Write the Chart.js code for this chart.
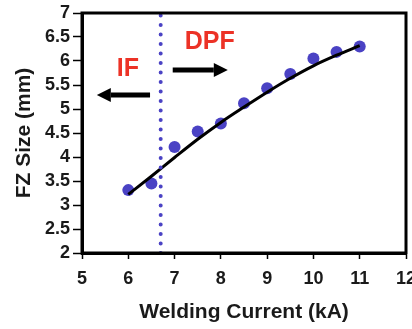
<!DOCTYPE html>
<html>
<head>
<meta charset="utf-8">
<script src="https://cdn.jsdelivr.net/npm/chart.js@4/dist/chart.umd.min.js"></script>
<style>
  body { margin: 0; background: #fff; }
  #wrap { width: 412px; height: 329px; position: relative; }
</style>
</head>
<body>
<div id="wrap"><canvas id="chart"></canvas></div>
<script>
// measured points
const currentKA = [6, 6.5, 7, 7.5, 8, 8.5, 9, 9.5, 10, 10.5, 11];
const fzSize = [3.31, 3.45, 4.21, 4.53, 4.70, 5.12, 5.43, 5.73, 6.05, 6.19, 6.30];
// trend line
const fitSize = [3.22, 3.60, 3.99, 4.37, 4.72, 5.04, 5.35, 5.64, 5.90, 6.12, 6.32];
// IF / DPF boundary
const boundaryKA = 6.7;
const yRange = [2, 7];
const xRange = [5, 12];

// notes in data units
const notes = [
  { text: 'IF', x: 5.99, y: 5.83 },
  { text: 'DPF', x: 7.76, y: 6.40 }
];
const arrows = [
  { from: 6.47, to: 5.32, y: 5.29 },
  { from: 6.96, to: 8.15, y: 5.81 }
];

const font = 'Liberation Sans, Arial, sans-serif';
const red = '#ec3226';
const blue = '#4a42c4';

const overlay = {
  id: 'overlay',
  afterDatasetsDraw(chart) {
    const { ctx, chartArea: a, scales: { x, y } } = chart;
    ctx.save();
    ctx.strokeStyle = '#000';
    ctx.lineWidth = 3;
    ctx.strokeRect(a.left, a.top, a.right - a.left, a.bottom - a.top);

    ctx.fillStyle = '#000';
    arrows.forEach(ar => {
      const x1 = x.getPixelForValue(ar.from);
      const x2 = x.getPixelForValue(ar.to);
      const py = y.getPixelForValue(ar.y);
      const dir = Math.sign(x2 - x1);
      const head = 14;
      ctx.lineWidth = 5;
      ctx.beginPath();
      ctx.moveTo(x1, py);
      ctx.lineTo(x2 - dir * head, py);
      ctx.stroke();
      ctx.beginPath();
      ctx.moveTo(x2, py);
      ctx.lineTo(x2 - dir * head, py - 7);
      ctx.lineTo(x2 - dir * head, py + 7);
      ctx.closePath();
      ctx.fill();
    });

    ctx.fillStyle = red;
    ctx.font = 'bold 25px ' + font;
    ctx.textAlign = 'center';
    ctx.textBaseline = 'middle';
    notes.forEach(n => {
      ctx.fillText(n.text, x.getPixelForValue(n.x), y.getPixelForValue(n.y));
    });
    ctx.restore();
  }
};

const tickFont = { family: font, size: 18, weight: 'bold' };

new Chart(document.getElementById('chart'), {
  type: 'line',
  data: {
    datasets: [
      {
        data: [{ x: boundaryKA, y: yRange[0] }, { x: boundaryKA, y: yRange[1] }],
        borderColor: blue,
        borderWidth: 4,
        borderDash: [0, 9.5],
        borderCapStyle: 'round',
        pointRadius: 0
      },
      {
        data: currentKA.map((v, i) => ({ x: v, y: fitSize[i] })),
        borderColor: '#000',
        borderWidth: 3,
        cubicInterpolationMode: 'monotone',
        pointRadius: 0
      },
      {
        data: currentKA.map((v, i) => ({ x: v, y: fzSize[i] })),
        showLine: false,
        pointRadius: 6,
        pointBackgroundColor: blue,
        pointBorderWidth: 0
      }
    ]
  },
  options: {
    responsive: true,
    maintainAspectRatio: false,
    animation: false,
    layout: { padding: { left: 8, top: 13, right: 5, bottom: 0 } },
    plugins: { legend: { display: false }, tooltip: { enabled: false } },
    scales: {
      x: {
        type: 'linear',
        min: xRange[0],
        max: xRange[1],
        ticks: { stepSize: 1, padding: 9, autoSkip: false, maxRotation: 0, color: '#1a1a1a', font: tickFont },
        grid: { drawOnChartArea: false, tickLength: 6, tickColor: '#000', tickWidth: 1.5 },
        border: { display: true, color: '#000', width: 3 },
        title: { display: true, text: 'Welding Current (kA)', color: '#1a1a1a', font: { family: font, size: 21, weight: 'bold' } },
        afterFit: s => { s.height = 76; s.paddingLeft = 0; s.paddingRight = 0; }
      },
      y: {
        min: yRange[0],
        max: yRange[1],
        ticks: {
          stepSize: 0.5,
          padding: 3,
          autoSkip: false,
          color: '#1a1a1a',
          font: tickFont,
          callback: v => String(Math.round(v * 10) / 10)
        },
        grid: { drawOnChartArea: false, tickLength: 9, tickColor: '#000', tickWidth: 1.5 },
        border: { display: true, color: '#000', width: 3 },
        title: { display: true, text: 'FZ Size (mm)', color: '#1a1a1a', font: { family: font, size: 21, weight: 'bold' } },
        afterFit: s => { s.width = 74; s.paddingTop = 0; s.paddingBottom = 0; }
      }
    }
  },
  plugins: [overlay]
});
</script>
</body>
</html>
